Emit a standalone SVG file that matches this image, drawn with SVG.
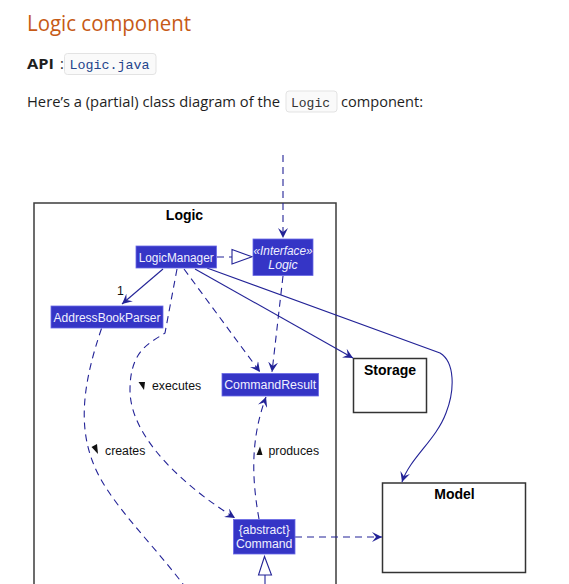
<svg xmlns="http://www.w3.org/2000/svg" width="569" height="584" viewBox="0 0 569 584">
<defs>
<style>
.page{font-family:"Open Sans","Noto Sans",sans-serif;fill:#1e1e1e}
.code{font-family:"Liberation Mono","DejaVu Sans Mono",monospace}
.codebox{fill:#fafafa;stroke:#e3e3e3;stroke-width:1}
.pkg{fill:none;stroke:#3c3c3c;stroke-width:1.5}
.comp{fill:#ffffff;stroke:#333333;stroke-width:1.5}
.bold{font-family:"Liberation Sans",Arial,sans-serif;font-weight:bold;font-size:14px;fill:#000}
.node{fill:#3535c6;stroke:#6a6ae6;stroke-width:0.8}
.nt{font-family:"Liberation Sans",Arial,sans-serif;font-size:12.3px;fill:#f0f0ff}
.it{font-style:italic}
.lbl{font-family:"Liberation Sans",Arial,sans-serif;font-size:12.3px;fill:#111}
.ln{fill:none;stroke:#232397;stroke-width:1.1}
.ds{stroke-dasharray:7 5}
</style>
<marker id="ah" viewBox="0 0 10 10" refX="10" refY="5" markerWidth="10" markerHeight="10" markerUnits="userSpaceOnUse" orient="auto">
<path d="M0,0 L10,5 L0,10 L4,5 Z" fill="#232397"/>
</marker>
</defs>

<g id="page-text">
<text x="27" y="30.5" font-family="'Open Sans','Noto Sans',sans-serif" font-size="22" fill="#c65a16" textLength="164" lengthAdjust="spacingAndGlyphs">Logic component</text>
<text x="27" y="69" class="page" font-size="14.5" font-weight="bold" textLength="27" lengthAdjust="spacingAndGlyphs">API</text>
<text x="60" y="69" class="page" font-size="14.5">:</text>
<rect class="codebox" x="64.5" y="53.5" width="91.5" height="21" rx="3"/>
<text x="69.5" y="69" class="code" font-size="13.3" fill="#24448c" textLength="80" lengthAdjust="spacingAndGlyphs">Logic.java</text>
<text x="27" y="107" class="page" font-size="15" textLength="253" lengthAdjust="spacingAndGlyphs">Here’s a (partial) class diagram of the</text>
<rect class="codebox" x="286" y="91" width="51" height="21" rx="3"/>
<text x="291" y="106.5" class="code" font-size="13" fill="#333" textLength="39" lengthAdjust="spacingAndGlyphs">Logic</text>
<text x="341" y="107" class="page" font-size="15" textLength="82" lengthAdjust="spacingAndGlyphs">component:</text>
</g>

<g id="pkg-logic">
<rect class="pkg" x="34" y="203" width="302" height="400"/>
<text class="bold" x="184.5" y="219.5" text-anchor="middle">Logic</text>
</g>

<g id="pkg-storage">
<rect class="comp" x="353.5" y="358.5" width="73" height="54"/>
<text class="bold" x="390" y="374.5" text-anchor="middle">Storage</text>
</g>

<g id="pkg-model">
<rect class="comp" x="382.5" y="483" width="143" height="89.5"/>
<text class="bold" x="454.5" y="498.5" text-anchor="middle">Model</text>
</g>

<g id="connectors">
<path class="ln ds" d="M283,155 L283,238" marker-end="url(#ah)"/>
<path class="ln ds" d="M217,257 L232,257"/>
<polygon points="232,249.5 252,256.8 232,264" fill="#fff" stroke="#232397" stroke-width="1.1"/>
<path class="ln" d="M163,269 L122,304" marker-end="url(#ah)"/>
<path class="ln" d="M195,269 L353,358" marker-end="url(#ah)"/>
<path class="ln" d="M207,268 L440,353 C455,362 455,390 446,413 C436,440 410,458 402,482" marker-end="url(#ah)"/>
<path class="ln ds" d="M184,269 L260,372" marker-end="url(#ah)"/>
<path class="ln ds" d="M283,276 L272,372" marker-end="url(#ah)"/>
<path class="ln ds" d="M177,269 L165,333 C150,343 130,350 130,390 C130,440 190,490 235,518" marker-end="url(#ah)"/>
<path class="ln ds" d="M101.5,328.5 C84,380 78,422 92,460 C106,500 150,540 186,588"/>
<path class="ln ds" d="M259,519 C252,480 250,440 266,397" marker-end="url(#ah)"/>
<path class="ln ds" d="M295,537 L382,537" marker-end="url(#ah)"/>
<path class="ln" d="M265,575 L265,590"/>
<polygon points="264.5,556.5 258.5,575 271.5,575" fill="#fff" stroke="#232397" stroke-width="1.1"/>
<text class="lbl" x="117" y="295">1</text>
<polygon points="138.5,382 145,382 144,390" fill="#111"/>
<text class="lbl" x="152" y="390">executes</text>
<polygon points="91.5,447 97,444 98,454" fill="#111"/>
<text class="lbl" x="105" y="455">creates</text>
<polygon points="256.5,455 262.5,455 260,446.5" fill="#111"/>
<text class="lbl" x="268.5" y="455">produces</text>
</g>

<g id="node-logicmanager">
<rect class="node" x="136" y="246" width="80.5" height="22"/>
<text class="nt" x="176.2" y="261.5" text-anchor="middle" textLength="75" lengthAdjust="spacingAndGlyphs">LogicManager</text>
</g>

<g id="node-logic-interface">
<rect class="node" x="253" y="239" width="60" height="36.5"/>
<text class="nt it" x="283" y="255" text-anchor="middle" textLength="59" lengthAdjust="spacingAndGlyphs">«Interface»</text>
<text class="nt it" x="283" y="268.5" text-anchor="middle">Logic</text>
</g>

<g id="node-addressbookparser">
<rect class="node" x="51" y="306" width="112" height="22"/>
<text class="nt" x="107" y="321.5" text-anchor="middle" textLength="107" lengthAdjust="spacingAndGlyphs">AddressBookParser</text>
</g>

<g id="node-commandresult">
<rect class="node" x="222" y="373.5" width="96.5" height="22.5"/>
<text class="nt" x="270.2" y="389.3" text-anchor="middle" textLength="92" lengthAdjust="spacingAndGlyphs">CommandResult</text>
</g>

<g id="node-command">
<rect class="node" x="233.5" y="519.5" width="61.5" height="34.5"/>
<text class="nt" x="264.2" y="534.3" text-anchor="middle" textLength="51" lengthAdjust="spacingAndGlyphs">{abstract}</text>
<text class="nt" x="264.2" y="547.7" text-anchor="middle" textLength="56.5" lengthAdjust="spacingAndGlyphs">Command</text>
</g>
</svg>
